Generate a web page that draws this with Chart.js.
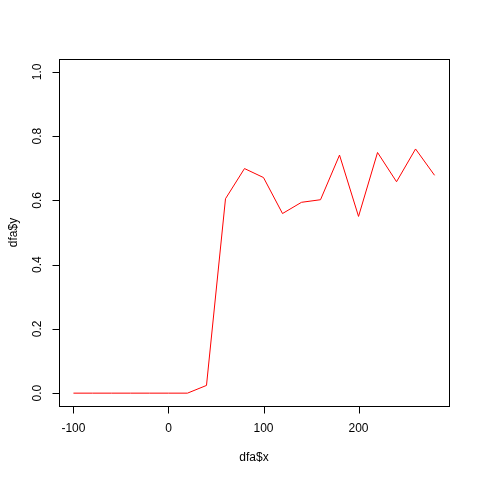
<!DOCTYPE html>
<html>
<head>
<meta charset="utf-8">
<script src="https://cdn.jsdelivr.net/npm/chart.js@4"></script>
<style>
  html, body { margin: 0; padding: 0; background: #fff; }
  #wrap { width: 480px; height: 480px; }
</style>
</head>
<body>
<div id="wrap"><canvas id="chart" width="480" height="480"></canvas></div>
<script>
// 数据
const xValues = [-100, -80, -60, -40, -20, 0, 20, 40, 60, 80, 100, 120, 140, 160, 180, 200, 220, 240, 260, 280];
const yValues = [0, 0, 0, 0, 0, 0, 0, 0.024, 0.605, 0.699, 0.671, 0.559, 0.594, 0.602, 0.741, 0.550, 0.749, 0.658, 0.760, 0.678];
const xTicks = [-100, 0, 100, 200];
const yTicks = [0, 0.2, 0.4, 0.6, 0.8, 1.0];
const yTickLabels = ['0.0', '0.2', '0.4', '0.6', '0.8', '1.0'];
const xTitle = 'dfa$x';
const yTitle = 'dfa$y';

const FONT = '12px "Liberation Sans", Arial, sans-serif';

// R 风格的边框和坐标轴
const baseAxes = {
    id: 'baseAxes',
    afterDraw(chart) {
        const ctx = chart.ctx;
        const area = chart.chartArea;
        const xs = chart.scales.x;
        const ys = chart.scales.y;
        ctx.save();
        ctx.strokeStyle = '#000';
        ctx.lineWidth = 1;
        ctx.strokeRect(Math.round(area.left) + 0.5, Math.round(area.top) + 0.5,
            Math.round(area.right - area.left), Math.round(area.bottom - area.top));

        // x 轴
        const yb = Math.round(area.bottom) + 0.5;
        ctx.beginPath();
        ctx.moveTo(Math.round(xs.getPixelForValue(xTicks[0])) + 0.5, yb);
        ctx.lineTo(Math.round(xs.getPixelForValue(xTicks[xTicks.length - 1])) + 0.5, yb);
        xTicks.forEach(v => {
            const px = Math.round(xs.getPixelForValue(v)) + 0.5;
            ctx.moveTo(px, yb);
            ctx.lineTo(px, yb + 7);
        });
        ctx.stroke();
        ctx.fillStyle = '#000';
        ctx.font = FONT;
        ctx.textAlign = 'center';
        ctx.textBaseline = 'middle';
        xTicks.forEach(v => {
            ctx.fillText(String(v), xs.getPixelForValue(v), yb + 22);
        });
        ctx.fillText(xTitle, (area.left + area.right) / 2, yb + 51);

        // y 轴
        const xl = Math.round(area.left) + 0.5;
        ctx.beginPath();
        ctx.moveTo(xl, Math.round(ys.getPixelForValue(yTicks[0])) + 0.5);
        ctx.lineTo(xl, Math.round(ys.getPixelForValue(yTicks[yTicks.length - 1])) + 0.5);
        yTicks.forEach(v => {
            const py = Math.round(ys.getPixelForValue(v)) + 0.5;
            ctx.moveTo(xl, py);
            ctx.lineTo(xl - 7, py);
        });
        ctx.stroke();
        yTicks.forEach((v, i) => {
            ctx.save();
            ctx.translate(xl - 22, ys.getPixelForValue(v));
            ctx.rotate(-Math.PI / 2);
            ctx.fillText(yTickLabels[i], 0, 0);
            ctx.restore();
        });
        ctx.save();
        ctx.translate(xl - 46, (area.top + area.bottom) / 2);
        ctx.rotate(-Math.PI / 2);
        ctx.fillText(yTitle, 0, 0);
        ctx.restore();
        ctx.restore();
    }
};

new Chart(document.getElementById('chart'), {
    type: 'line',
    data: {
        datasets: [{
            data: xValues.map((x, i) => ({ x: x, y: yValues[i] })),
            borderColor: '#ff0000',
            borderWidth: 1,
            pointRadius: 0,
            tension: 0,
            fill: false
        }]
    },
    options: {
        responsive: false,
        animation: false,
        layout: { padding: { left: 59, right: 31, top: 59, bottom: 74 } },
        scales: {
            x: { type: 'linear', min: -115.2, max: 295.2, display: false },
            y: { type: 'linear', min: -0.04, max: 1.04, display: false }
        },
        plugins: {
            legend: { display: false },
            tooltip: { enabled: false }
        }
    },
    plugins: [baseAxes]
});
</script>
</body>
</html>
